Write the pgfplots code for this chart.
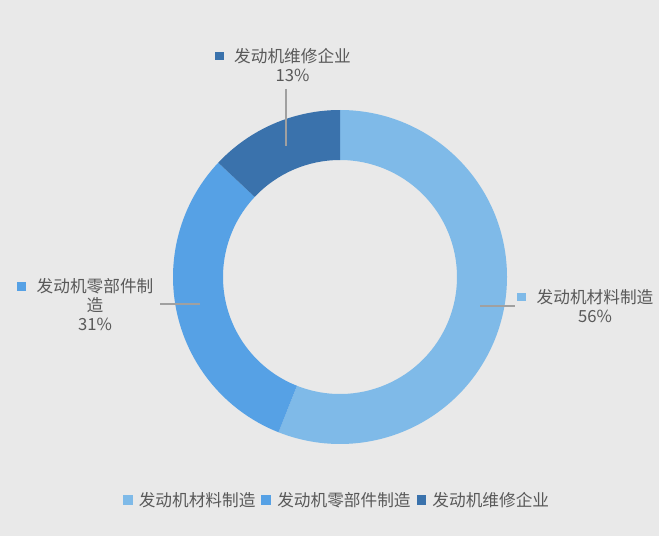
\documentclass[border=0pt]{standalone}
\usepackage{pgfplots}
\pgfplotsset{compat=1.18}
\usepackage{pgfplotstable}
\usepackage{fontspec}
\setmainfont{Noto Sans CJK SC}

\definecolor{bg}{RGB}{233,233,233}
\definecolor{c1}{RGB}{127,186,232}
\definecolor{c2}{RGB}{86,161,229}
\definecolor{c3}{RGB}{58,114,172}
\definecolor{txt}{RGB}{89,89,89}
\definecolor{lead}{RGB}{160,160,160}

% shares of the donut, in per cent
\pgfplotstableread{
share
56
31
13
}\donut

% one ring slice: start angle, share, colour
\newcommand\slice[3]{%
  \fill[#3] ([shift={({#1}:125.25pt)}]axis cs:340,259)
    arc[start angle={#1}, end angle={#1-3.6*#2}, radius=125.25pt]
    -- ([shift={({#1-3.6*#2}:87.75pt)}]axis cs:340,259)
    arc[start angle={#1-3.6*#2}, end angle={#1}, radius=87.75pt] -- cycle;}

\newcommand\key[1]{\llap{\textcolor{#1}{\rule[1.5pt]{6.5pt}{6.5pt}}\hspace{8pt}}}

\begin{document}
\begin{tikzpicture}
\pgfplotstablegetelem{0}{share}\of\donut \let\sa\pgfplotsretval
\pgfplotstablegetelem{1}{share}\of\donut \let\sb\pgfplotsretval
\pgfplotstablegetelem{2}{share}\of\donut \let\sc\pgfplotsretval
\begin{axis}[
    x=0.75pt, y=0.75pt,
    xmin=0, xmax=659, ymin=0, ymax=536,
    hide axis,
    clip=false,
    legend columns=-1,
    legend style={
        at={(0.5099,0.0672)}, anchor=center,
        draw=none, fill=none, inner sep=0pt,
        font=\fontsize{12.5}{14}\selectfont, text=txt,
        nodes={inner xsep=0pt},
        /tikz/every odd column/.append style={column sep=5pt},
        /tikz/every even column/.append style={column sep=4.5pt},
    },
    legend image code/.code={\fill (0pt,-3.25pt) rectangle (6.5pt,3.25pt);},
]
\fill[bg] (axis cs:0,0) rectangle (axis cs:659,536);

\slice{90}{\sa}{c1}
\slice{90-3.6*\sa}{\sb}{c2}
\slice{90-3.6*\sa-3.6*\sb}{\sc}{c3}

\addlegendimage{c1}\addlegendentry{发动机材料制造}
\addlegendimage{c2}\addlegendentry{发动机零部件制造}
\addlegendimage{c3}\addlegendentry{发动机维修企业}

% leader lines
\draw[lead, line width=1.2pt] (axis cs:286,447) -- (axis cs:286,390);
\draw[lead, line width=1.2pt] (axis cs:160,232) -- (axis cs:200,232);
\draw[lead, line width=1.2pt] (axis cs:480,230) -- (axis cs:515,230);

% data labels
\node[text=txt, align=center, font=\fontsize{12.5}{14.25}\selectfont]
  at (axis cs:292.5,471) {\key{c3}发动机维修企业\\13\%};
\node[text=txt, align=center, font=\fontsize{12.5}{14.25}\selectfont]
  at (axis cs:95,231) {\key{c2}发动机零部件制\\造\\31\%};
\node[text=txt, align=center, font=\fontsize{12.5}{14.25}\selectfont]
  at (axis cs:595,230) {\key{c1}发动机材料制造\\56\%};
\end{axis}
\end{tikzpicture}
\end{document}
